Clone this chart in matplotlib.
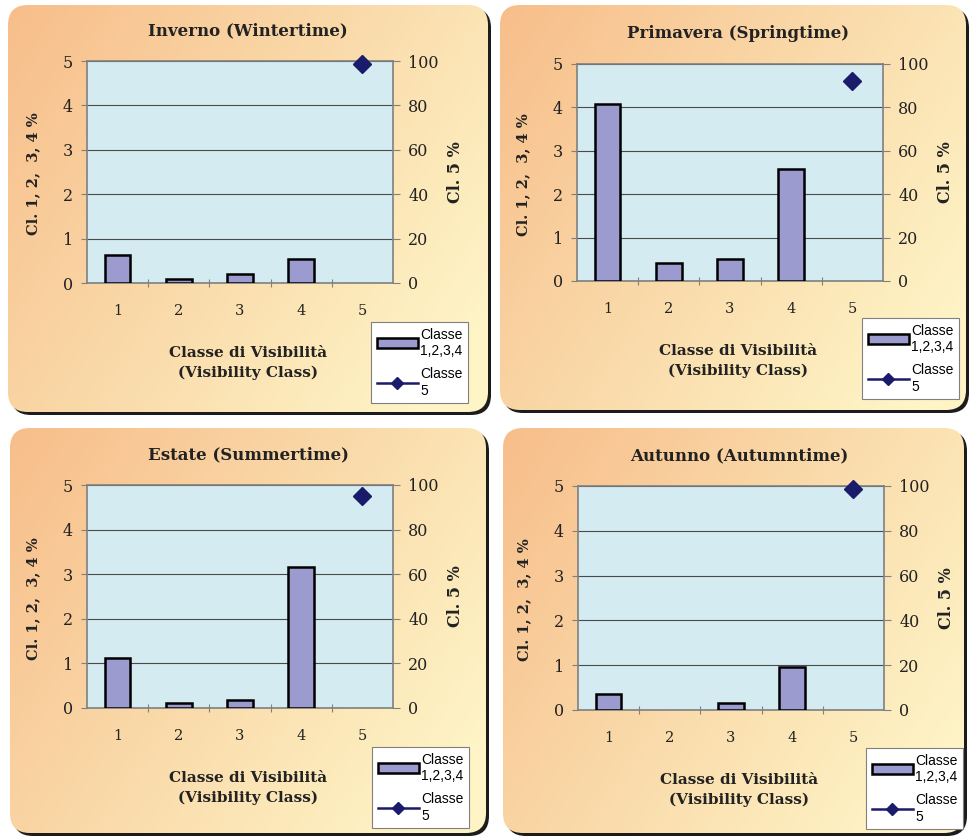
import numpy as np
import matplotlib
matplotlib.use("Agg")
import matplotlib.pyplot as plt
from matplotlib.patches import FancyBboxPatch
from matplotlib.colors import LinearSegmentedColormap

# Seasonal frequency of visibility classes
classes = [1, 2, 3, 4, 5]
titles = ["Inverno (Wintertime)", "Primavera (Springtime)",
          "Estate (Summertime)", "Autunno (Autumntime)"]
bars_inverno = [0.62, 0.09, 0.21, 0.55]
bars_primavera = [4.08, 0.42, 0.51, 2.57]
bars_estate = [1.11, 0.11, 0.19, 3.17]
bars_autunno = [0.36, 0.0, 0.15, 0.95]
class5_pct = [98.7, 92.2, 95.1, 98.5]
left_ticks = [0, 1, 2, 3, 4, 5]
right_ticks = [0, 20, 40, 60, 80, 100]
bar_label = "Classe\n1,2,3,4"
line_label = "Classe\n5"
xlabel = "Classe di Visibilità\n(Visibility Class)"
ylabel_left = "Cl. 1, 2,  3, 4 %"
ylabel_right = "Cl. 5 %"

season_bars = [bars_inverno, bars_primavera, bars_estate, bars_autunno]

W, H = 971, 840
fig = plt.figure(figsize=(W / 100, H / 100), dpi=100)
fig.patch.set_facecolor("white")

serif = "DejaVu Serif"
sans = "Liberation Sans"

# Background layer in pixel coordinates for the rounded panels
bg = fig.add_axes([0, 0, 1, 1], zorder=-5)
bg.set_xlim(0, W)
bg.set_ylim(H, 0)
bg.axis("off")

panel_boxes = [  # x0, y0, x1, y1 in pixels
    (8, 5, 488, 412),
    (500, 5, 966, 410),
    (10, 428, 486, 833),
    (503, 428, 964, 833),
]
grad = LinearSegmentedColormap.from_list("warm", ["#F7BE8A", "#FAD9A9", "#FEF4C6"])
gy, gx = np.mgrid[0:1:200j, 0:1:200j]
gvals = np.clip(0.7 * gx + 0.4 * gy, 0, 1)

for (x0, y0, x1, y1) in panel_boxes:
    r = 20
    shadow = FancyBboxPatch((x0 + 3, y0 + 3), x1 - x0, y1 - y0,
                            boxstyle=f"round,pad=0,rounding_size={r}",
                            facecolor="#1c1c1c", edgecolor="none", zorder=1)
    bg.add_patch(shadow)
    face = FancyBboxPatch((x0, y0), x1 - x0, y1 - y0,
                          boxstyle=f"round,pad=0,rounding_size={r}",
                          facecolor="none", edgecolor="none", zorder=2)
    bg.add_patch(face)
    im = bg.imshow(gvals, cmap=grad, extent=(x0, x1, y1, y0),
                   aspect="auto", zorder=2, interpolation="bilinear")
    im.set_clip_path(face)

# Plot areas (pixel boxes: left, top, right, bottom)
plot_boxes = [
    (87, 61, 393, 283),
    (577, 64, 883, 281),
    (87, 485, 393, 708),
    (578, 486, 884, 710),
]
legend_boxes = [  # left, top of legend frame
    (371, 322), (862, 318), (372, 747), (866, 748),
]

for i, (l, t, r, b) in enumerate(plot_boxes):
    ax = fig.add_axes([l / W, 1 - b / H, (r - l) / W, (b - t) / H])
    ax.set_facecolor("#D3EBF1")
    heights = season_bars[i]
    edge_w = [1.8 if h > 0 else 0 for h in heights]
    bars = ax.bar(classes[:4], heights, width=0.42, color="#9B9BD0",
                  edgecolor="black", linewidth=edge_w, zorder=3, label=bar_label)
    ax.set_xlim(0.5, 5.5)
    ax.set_ylim(0, 5)
    ax.set_yticks(left_ticks)
    ax.yaxis.grid(True, color="#4a4a4a", linewidth=0.8)
    ax.set_axisbelow(True)
    ax.set_xticks([1.5, 2.5, 3.5, 4.5])
    ax.set_xticklabels([])
    ax.set_xticks(classes, minor=True)
    ax.set_xticklabels([str(c) for c in classes], minor=True,
                       family=serif, fontsize=10.5, color="#222222")
    ax.tick_params(axis="x", which="major", direction="inout", length=6,
                   color="#808080")
    ax.tick_params(axis="x", which="minor", length=0, pad=15)
    ax.tick_params(axis="y", direction="out", length=4, color="#808080",
                   labelsize=11.5, pad=6)
    for lab in ax.get_yticklabels():
        lab.set_family(serif)
        lab.set_color("#222222")
    for s in ax.spines.values():
        s.set_color("#808080")
        s.set_linewidth(1.2)

    ax2 = ax.twinx()
    yvals = [np.nan] * 4 + [class5_pct[i]]
    line, = ax2.plot(classes, yvals, color="#1B1B6B", marker="D",
                     markersize=9, linewidth=1.8, label=line_label, zorder=5,
                     clip_on=False)
    ax2.set_ylim(0, 100)
    ax2.set_yticks(right_ticks)
    ax2.tick_params(axis="y", direction="out", length=5, color="#808080",
                    labelsize=11.5, pad=6)
    for lab in ax2.get_yticklabels():
        lab.set_family(serif)
        lab.set_color("#222222")
    for s in ax2.spines.values():
        s.set_visible(False)

    cx = (l + r) / 2
    fig.text((cx + 8) / W, 1 - (t - 30) / H, titles[i], family=serif,
             fontsize=12, fontweight="bold", ha="center", va="center",
             color="#222222")
    fig.text((cx + 8) / W, 1 - (b + 80) / H, xlabel, family=serif,
             fontsize=11, fontweight="bold", ha="center", va="center",
             color="#222222", linespacing=1.5)
    fig.text((l - 54) / W, 1 - ((t + b) / 2 + 2) / H, ylabel_left,
             family=serif, fontsize=10.5, fontweight="bold", rotation=90,
             ha="center", va="center", color="#222222")
    fig.text((r + 62) / W, 1 - ((t + b) / 2) / H, ylabel_right,
             family=serif, fontsize=11.5, fontweight="bold", rotation=90,
             ha="center", va="center", color="#222222")

    lx, ly = legend_boxes[i]
    leg = ax2.legend([bars, line], [bar_label, line_label],
                     loc="upper left",
                     bbox_to_anchor=(lx / W, 1 - ly / H),
                     bbox_transform=fig.transFigure,
                     prop={"family": sans, "size": 10},
                     frameon=True, fancybox=False, framealpha=1,
                     edgecolor="#808080", facecolor="white",
                     handlelength=3.0, handleheight=0.7, handletextpad=0.15,
                     borderpad=0.4, labelspacing=0.7, borderaxespad=0,
                     markerscale=0.65)
    leg.get_frame().set_linewidth(0.8)

fig.savefig("out.png", dpi=100)
